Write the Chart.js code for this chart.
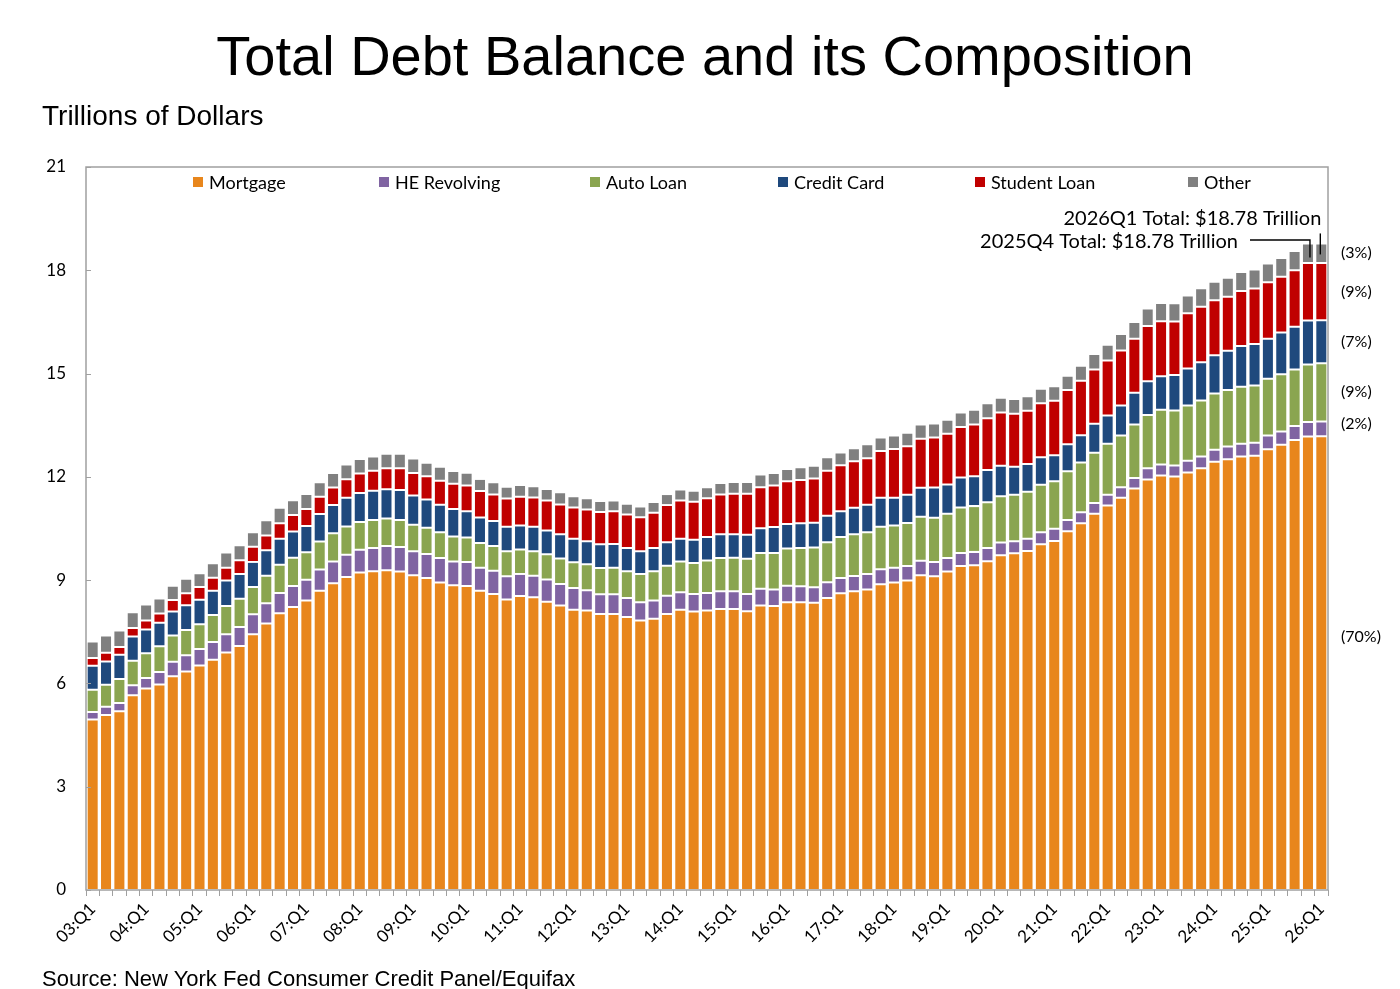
<!DOCTYPE html>
<html>
<head>
<meta charset="utf-8">
<script src="https://cdn.jsdelivr.net/npm/chart.js@4.4.1/dist/chart.umd.min.js"></script>
<style>
html,body{margin:0;padding:0;background:#fff;}
#wrap{position:relative;width:1400px;height:989px;overflow:hidden;background:#fff;}
#title{position:absolute;left:5px;top:27.6px;width:1400px;text-align:center;font-family:"Liberation Sans",Arial,sans-serif;font-size:56px;line-height:1;color:#000;white-space:nowrap;}
#ylab{position:absolute;left:42px;top:102.3px;font-family:"Liberation Sans",Arial,sans-serif;font-size:28px;line-height:1;color:#000;white-space:nowrap;}
#source{position:absolute;left:42px;top:968.4px;font-family:"Liberation Sans",Arial,sans-serif;font-size:22px;line-height:1;color:#000;white-space:nowrap;}
#c{position:absolute;left:0;top:0;}
</style>
</head>
<body>
<div id="wrap">
  <canvas id="c" width="1400" height="989"></canvas>
  <div id="title">Total Debt Balance and its Composition</div>
  <div id="ylab">Trillions of Dollars</div>
  <div id="source">Source: New York Fed Consumer Credit Panel/Equifax</div>
</div>
<script>
// ---- Data (trillions of dollars), 2003Q1 .. 2026Q1 ----
const quarters = [
  '03:Q1','03:Q2','03:Q3','03:Q4','04:Q1','04:Q2','04:Q3','04:Q4',
  '05:Q1','05:Q2','05:Q3','05:Q4','06:Q1','06:Q2','06:Q3','06:Q4',
  '07:Q1','07:Q2','07:Q3','07:Q4','08:Q1','08:Q2','08:Q3','08:Q4',
  '09:Q1','09:Q2','09:Q3','09:Q4','10:Q1','10:Q2','10:Q3','10:Q4',
  '11:Q1','11:Q2','11:Q3','11:Q4','12:Q1','12:Q2','12:Q3','12:Q4',
  '13:Q1','13:Q2','13:Q3','13:Q4','14:Q1','14:Q2','14:Q3','14:Q4',
  '15:Q1','15:Q2','15:Q3','15:Q4','16:Q1','16:Q2','16:Q3','16:Q4',
  '17:Q1','17:Q2','17:Q3','17:Q4','18:Q1','18:Q2','18:Q3','18:Q4',
  '19:Q1','19:Q2','19:Q3','19:Q4','20:Q1','20:Q2','20:Q3','20:Q4',
  '21:Q1','21:Q2','21:Q3','21:Q4','22:Q1','22:Q2','22:Q3','22:Q4',
  '23:Q1','23:Q2','23:Q3','23:Q4','24:Q1','24:Q2','24:Q3','24:Q4',
  '25:Q1','25:Q2','25:Q3','25:Q4','26:Q1'
];

const mortgage = [
  4.95,5.08,5.19,5.66,5.85,5.97,6.21,6.35,6.52,6.69,6.90,7.09,7.43,7.74,8.04,8.22,
  8.41,8.69,8.91,9.09,9.22,9.26,9.29,9.25,9.14,9.06,8.93,8.85,8.83,8.69,8.60,8.44,
  8.54,8.50,8.37,8.26,8.14,8.12,8.02,8.02,7.93,7.83,7.88,8.02,8.14,8.09,8.12,8.16,
  8.16,8.10,8.26,8.25,8.36,8.36,8.34,8.48,8.62,8.68,8.73,8.88,8.93,8.99,9.14,9.11,
  9.25,9.41,9.43,9.55,9.72,9.78,9.85,10.04,10.14,10.42,10.65,10.93,11.17,11.39,11.66,11.92,
  12.04,12.01,12.13,12.25,12.44,12.51,12.59,12.61,12.80,12.93,13.07,13.17,13.18
];
const heRevolving = [
  0.22,0.24,0.24,0.29,0.31,0.36,0.42,0.47,0.48,0.51,0.53,0.55,0.58,0.59,0.59,0.61,
  0.60,0.62,0.63,0.65,0.66,0.67,0.70,0.71,0.70,0.70,0.71,0.69,0.70,0.67,0.67,0.67,
  0.64,0.63,0.65,0.63,0.63,0.59,0.57,0.57,0.55,0.53,0.53,0.53,0.51,0.51,0.51,0.52,
  0.52,0.50,0.49,0.48,0.48,0.46,0.45,0.46,0.44,0.44,0.45,0.44,0.43,0.42,0.42,0.42,
  0.39,0.38,0.39,0.38,0.37,0.35,0.35,0.35,0.35,0.33,0.32,0.31,0.31,0.31,0.31,0.33,
  0.32,0.32,0.34,0.34,0.35,0.37,0.37,0.38,0.40,0.39,0.41,0.42,0.43
];
const autoLoan = [
  0.65,0.64,0.70,0.71,0.72,0.75,0.76,0.73,0.72,0.79,0.82,0.82,0.79,0.80,0.82,0.82,
  0.80,0.81,0.82,0.82,0.81,0.82,0.80,0.79,0.77,0.76,0.75,0.73,0.71,0.72,0.72,0.73,
  0.71,0.71,0.73,0.74,0.75,0.75,0.76,0.77,0.78,0.82,0.85,0.87,0.89,0.90,0.94,0.96,
  0.97,1.02,1.04,1.06,1.08,1.11,1.16,1.16,1.19,1.21,1.21,1.23,1.23,1.25,1.28,1.28,
  1.29,1.32,1.33,1.33,1.35,1.35,1.37,1.38,1.38,1.41,1.45,1.46,1.48,1.50,1.55,1.55,
  1.59,1.60,1.60,1.63,1.63,1.64,1.66,1.66,1.65,1.66,1.64,1.67,1.69
];
const creditCard = [
  0.69,0.68,0.70,0.70,0.69,0.68,0.70,0.72,0.71,0.70,0.74,0.72,0.73,0.74,0.75,0.76,
  0.76,0.80,0.82,0.83,0.84,0.85,0.85,0.87,0.85,0.82,0.80,0.80,0.76,0.74,0.73,0.71,
  0.70,0.71,0.69,0.70,0.68,0.67,0.69,0.69,0.67,0.66,0.67,0.68,0.66,0.67,0.68,0.69,
  0.68,0.70,0.72,0.75,0.71,0.72,0.72,0.77,0.75,0.77,0.80,0.84,0.80,0.82,0.84,0.88,
  0.85,0.87,0.87,0.94,0.88,0.81,0.80,0.80,0.76,0.79,0.79,0.84,0.82,0.87,0.92,0.98,
  0.97,1.03,1.08,1.11,1.11,1.14,1.18,1.21,1.16,1.21,1.24,1.28,1.25
];
const studentLoan = [
  0.23,0.25,0.23,0.25,0.26,0.27,0.33,0.35,0.37,0.38,0.37,0.40,0.44,0.43,0.45,0.48,
  0.50,0.50,0.51,0.54,0.57,0.58,0.61,0.63,0.65,0.68,0.70,0.73,0.75,0.77,0.77,0.82,
  0.83,0.85,0.87,0.87,0.91,0.92,0.94,0.95,0.98,0.99,1.03,1.08,1.11,1.11,1.13,1.16,
  1.18,1.19,1.19,1.21,1.24,1.26,1.28,1.31,1.34,1.35,1.35,1.36,1.42,1.41,1.43,1.45,
  1.47,1.47,1.50,1.50,1.55,1.54,1.55,1.57,1.58,1.57,1.58,1.58,1.60,1.60,1.57,1.60,
  1.60,1.55,1.60,1.61,1.60,1.57,1.60,1.61,1.64,1.62,1.64,1.67,1.66
];
const other = [
  0.48,0.50,0.48,0.46,0.46,0.44,0.42,0.42,0.40,0.42,0.44,0.43,0.42,0.44,0.45,0.43,
  0.43,0.42,0.42,0.43,0.42,0.41,0.42,0.42,0.42,0.39,0.40,0.37,0.37,0.35,0.35,0.34,
  0.34,0.33,0.34,0.35,0.33,0.33,0.32,0.31,0.31,0.31,0.31,0.32,0.32,0.32,0.32,0.33,
  0.34,0.34,0.37,0.36,0.36,0.37,0.37,0.39,0.37,0.38,0.41,0.39,0.39,0.39,0.41,0.41,
  0.41,0.42,0.43,0.44,0.43,0.43,0.42,0.42,0.42,0.42,0.44,0.45,0.46,0.48,0.49,0.51,
  0.53,0.53,0.52,0.54,0.54,0.55,0.55,0.55,0.55,0.55,0.56,0.57,0.57
];

const seriesNames = ['Mortgage','HE Revolving','Auto Loan','Credit Card','Student Loan','Other'];
const seriesValues = [mortgage, heRevolving, autoLoan, creditCard, studentLoan, other];
const seriesColors = ['#E8861C','#8064A2','#8AA550','#1F497D','#C00000','#808080'];
const yTicks = [0,3,6,9,12,15,18,21];

const FONT = 'Lato, "Open Sans", "DejaVu Sans", sans-serif';

const decorPlugin = {
  id: 'decor',
  afterDatasetsDraw(chart) {
    const ctx = chart.ctx;
    const a = chart.chartArea;
    const xs = chart.scales.x, ys = chart.scales.y;
    ctx.save();
    // plot frame
    ctx.strokeStyle = '#A0A0A0';
    ctx.lineWidth = 1.5;
    ctx.strokeRect(a.left, a.top, a.right - a.left, a.bottom - a.top);
    // small inner y tick marks
    ctx.lineWidth = 1;
    yTicks.forEach(t => {
      const y = Math.round(ys.getPixelForValue(t)) + 0.5;
      ctx.beginPath(); ctx.moveTo(a.left, y); ctx.lineTo(a.left + 5, y); ctx.stroke();
    });

    // legend
    const legendX = [193, 379, 590, 778, 975, 1188];
    const legendY = 182;
    ctx.font = '18px ' + FONT;
    ctx.textBaseline = 'middle';
    ctx.textAlign = 'left';
    chart.data.datasets.forEach((ds, i) => {
      ctx.fillStyle = ds.backgroundColor;
      ctx.fillRect(legendX[i], legendY - 5, 10, 10);
      ctx.fillStyle = '#000';
      ctx.fillText(ds.label, legendX[i] + 16, legendY + 1);
    });

    // totals annotation
    const n = quarters.length;
    const total = i => seriesValues.reduce((s, arr) => s + arr[i], 0);
    const qName = i => '20' + quarters[i].replace(':', '');
    const iLast = n - 1, iPrev = n - 2;
    const xLast = xs.getPixelForValue(iLast);
    const xPrev = xs.getPixelForValue(iPrev);
    const yTop = ys.getPixelForValue(total(iLast));
    const yTopPrev = ys.getPixelForValue(total(iPrev));
    ctx.font = '20px ' + FONT;
    ctx.textAlign = 'right';
    ctx.textBaseline = 'alphabetic';
    ctx.fillStyle = '#000';
    ctx.fillText(qName(iLast) + ' Total: $' + total(iLast).toFixed(2) + ' Trillion', xLast, yTop - 18.5);
    ctx.fillText(qName(iPrev) + ' Total: $' + total(iPrev).toFixed(2) + ' Trillion', xPrev - 70, yTopPrev + 4.5);
    ctx.strokeStyle = '#000';
    ctx.lineWidth = 1.4;
    ctx.beginPath();
    ctx.moveTo(xLast - 1, yTop - 10); ctx.lineTo(xLast - 1, yTop + 11);
    ctx.stroke();
    ctx.beginPath();
    ctx.moveTo(xPrev - 58, yTopPrev - 3.5); ctx.lineTo(xPrev + 2, yTopPrev - 3.5); ctx.lineTo(xPrev + 2, yTopPrev + 14);
    ctx.stroke();

    // composition shares of the last quarter
    const tot = total(iLast);
    const offsets = [-26, -5, 0, 0, 0, 0];
    ctx.font = '16px ' + FONT;
    ctx.textAlign = 'left';
    ctx.textBaseline = 'middle';
    let cum = 0;
    seriesValues.forEach((arr, k) => {
      const v = arr[iLast];
      const mid = ys.getPixelForValue(cum + v / 2) + offsets[k];
      cum += v;
      ctx.fillText('(' + Math.round(v / tot * 100) + '%)', a.right + 13, mid);
    });
    ctx.restore();
  }
};

const chart = new Chart(document.getElementById('c'), {
  type: 'bar',
  data: {
    labels: quarters,
    datasets: seriesNames.map((name, i) => ({
      label: name,
      data: seriesValues[i],
      backgroundColor: seriesColors[i],
      borderColor: 'rgba(255,255,255,0.45)',
      borderWidth: 1,
      borderSkipped: false,
      barPercentage: 0.9,
      categoryPercentage: 1.0
    }))
  },
  options: {
    responsive: false,
    animation: false,
    layout: { padding: { left: 0, right: 72, top: 167, bottom: 0 } },
    plugins: { legend: { display: false }, tooltip: { enabled: false }, title: { display: false } },
    scales: {
      x: {
        stacked: true,
        offset: true,
        grid: { display: true, drawOnChartArea: false, drawTicks: true, tickLength: 6, color: '#A0A0A0', offset: true, lineWidth: 1 },
        border: { display: false },
        ticks: {
          autoSkip: false, maxRotation: 45, minRotation: 45, padding: 3,
          color: '#000', font: { family: FONT, size: 17 },
          callback: function (v) { const l = this.getLabelForValue(v); return l.endsWith('Q1') ? l : ''; }
        },
        afterFit: s => { s.height = 99; }
      },
      y: {
        stacked: true, min: 0, max: 21,
        afterBuildTicks: s => { s.ticks = yTicks.map(v => ({ value: v })); },
        ticks: { padding: 20, color: '#000', font: { family: FONT, size: 17 } },
        grid: { display: false, drawTicks: false },
        border: { display: false },
        afterFit: s => { s.width = 86; }
      }
    }
  },
  plugins: [decorPlugin]
});
</script>
</body>
</html>
